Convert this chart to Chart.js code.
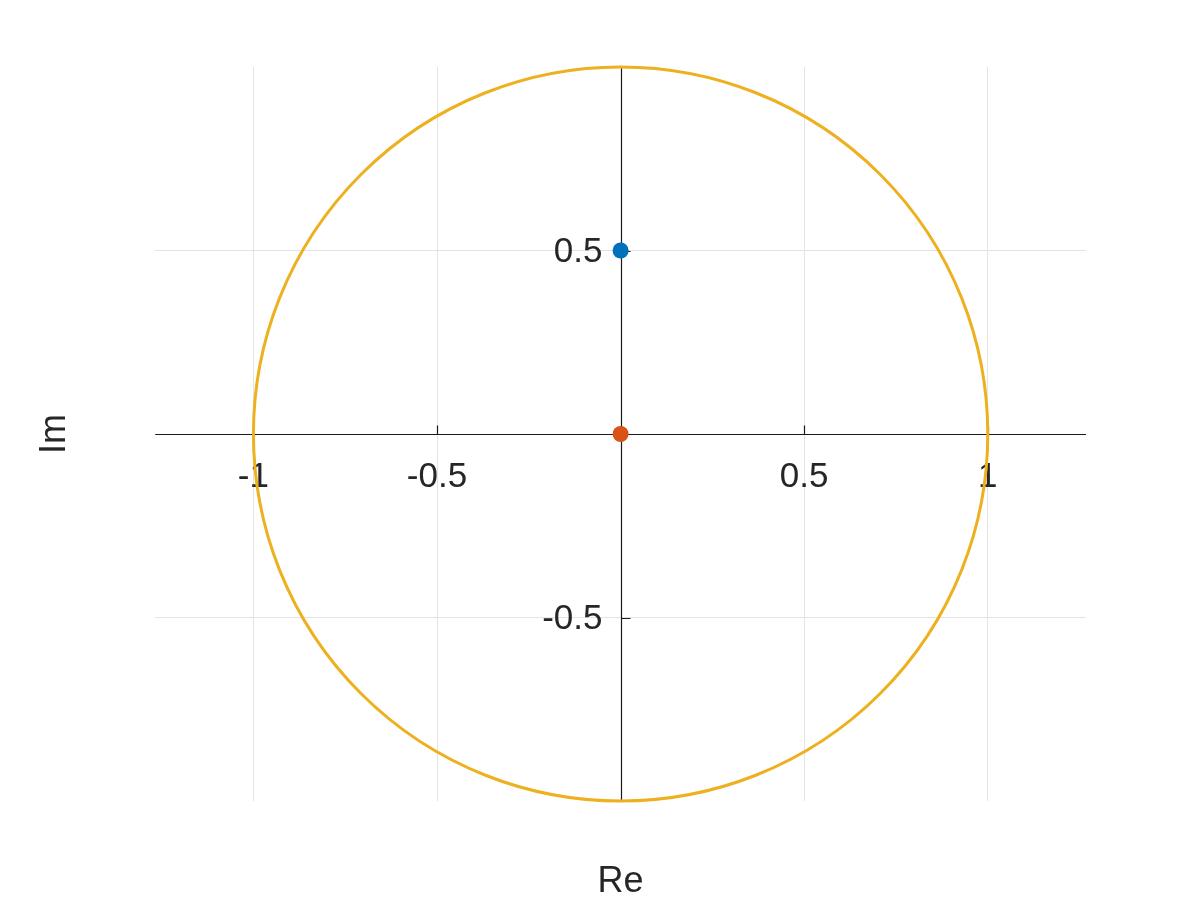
<!DOCTYPE html>
<html>
<head>
<meta charset="utf-8">
<script src="https://cdn.jsdelivr.net/npm/chart.js@4"></script>
<style>
  html, body { margin: 0; padding: 0; background: #ffffff; }
  canvas { display: block; }
</style>
</head>
<body>
<canvas id="planeChart" width="1200" height="900"></canvas>
<script>
// data
const blueRe = [0];
const blueIm = [0.5];
const orangeRe = [0];
const orangeIm = [0];
const circleCenter = [0, 0];
const circleRadius = 1;

const xTicks = [-1, -0.5, 0, 0.5, 1];
const yTicks = [-0.5, 0, 0.5];
const xTickLabels = ["-1", "-0.5", "", "0.5", "1"];
const yTickLabels = ["-0.5", "", "0.5"];

const xRange = [-1.2675, 1.2675];
const yRange = [-1, 1];

const textColor = "#262626";
const gridColor = "#e3e3e3";

// axes through the origin, tick labels and the unit circle
const originAxes = {
  id: "originAxes",
  beforeDatasetsDraw(chart) {
    const ctx = chart.ctx;
    const area = chart.chartArea;
    const xs = chart.scales.x;
    const ys = chart.scales.y;
    const x0 = Math.round(xs.getPixelForValue(0)) + 0.5;
    const y0 = Math.round(ys.getPixelForValue(0)) + 0.5;

    ctx.save();
    ctx.strokeStyle = "#1a1a1a";
    ctx.lineWidth = 1.2;
    ctx.beginPath();
    ctx.moveTo(area.left, y0);
    ctx.lineTo(area.right, y0);
    ctx.moveTo(x0, area.top);
    ctx.lineTo(x0, area.bottom);

    // tick marks
    xTicks.forEach((v) => {
      if (v === 0) return;
      const px = Math.round(xs.getPixelForValue(v)) + 0.5;
      ctx.moveTo(px, y0);
      ctx.lineTo(px, y0 - 9);
    });
    yTicks.forEach((v) => {
      if (v === 0) return;
      const py = Math.round(ys.getPixelForValue(v)) + 0.5;
      ctx.moveTo(x0, py);
      ctx.lineTo(x0 + 9, py);
    });
    ctx.stroke();

    // tick labels
    ctx.fillStyle = textColor;
    ctx.font = "35px 'Liberation Sans', Arial, sans-serif";
    ctx.textAlign = "center";
    ctx.textBaseline = "middle";
    xTicks.forEach((v, i) => {
      ctx.fillText(xTickLabels[i], xs.getPixelForValue(v), y0 + 43);
    });
    ctx.textAlign = "right";
    yTicks.forEach((v, i) => {
      ctx.fillText(yTickLabels[i], x0 - 19, ys.getPixelForValue(v) + 2);
    });

    // unit circle
    const cx = xs.getPixelForValue(circleCenter[0]);
    const cy = ys.getPixelForValue(circleCenter[1]);
    const rx = xs.getPixelForValue(circleCenter[0] + circleRadius) - cx;
    const ry = cy - ys.getPixelForValue(circleCenter[1] + circleRadius);
    ctx.strokeStyle = "#EDB120";
    ctx.lineWidth = 3;
    ctx.beginPath();
    ctx.ellipse(cx, cy, rx, ry, 0, 0, Math.PI * 2);
    ctx.stroke();
    ctx.restore();
  },
};

const ctx = document.getElementById("planeChart").getContext("2d");

new Chart(ctx, {
  type: "scatter",
  data: {
    datasets: [
      {
        label: "blue",
        data: blueRe.map((x, i) => ({ x: x, y: blueIm[i] })),
        backgroundColor: "#0072BD",
        borderColor: "#0072BD",
        pointRadius: 8,
        borderWidth: 0,
      },
      {
        label: "orange",
        data: orangeRe.map((x, i) => ({ x: x, y: orangeIm[i] })),
        backgroundColor: "#D95319",
        borderColor: "#D95319",
        pointRadius: 8,
        borderWidth: 0,
      },
    ],
  },
  options: {
    responsive: false,
    animation: false,
    layout: {
      padding: { top: 67, right: 114, bottom: 0, left: 0 },
    },
    plugins: {
      legend: { display: false },
      tooltip: { enabled: false },
    },
    scales: {
      x: {
        type: "linear",
        min: xRange[0],
        max: xRange[1],
        afterBuildTicks: (scale) => {
          scale.ticks = xTicks.map((v) => ({ value: v }));
        },
        ticks: { display: false },
        border: { display: false },
        grid: {
          drawTicks: false,
          lineWidth: 1,
          color: (c) => (c.tick && c.tick.value === 0 ? "rgba(0,0,0,0)" : gridColor),
        },
        title: {
          display: true,
          text: "Re",
          color: textColor,
          font: { family: "'Liberation Sans', Arial, sans-serif", size: 36, lineHeight: 1.0 },
          padding: { top: 63, bottom: 0 },
        },
      },
      y: {
        type: "linear",
        min: yRange[0],
        max: yRange[1],
        afterBuildTicks: (scale) => {
          scale.ticks = yTicks.map((v) => ({ value: v }));
        },
        ticks: { display: false },
        border: { display: false },
        grid: {
          drawTicks: false,
          lineWidth: 1,
          color: (c) => (c.tick && c.tick.value === 0 ? "rgba(0,0,0,0)" : gridColor),
        },
        title: {
          display: true,
          text: "Im",
          color: textColor,
          font: { family: "'Liberation Sans', Arial, sans-serif", size: 36, lineHeight: 1.2 },
          padding: { top: 33, bottom: 79 },
        },
      },
    },
  },
  plugins: [originAxes],
});
</script>
</body>
</html>
